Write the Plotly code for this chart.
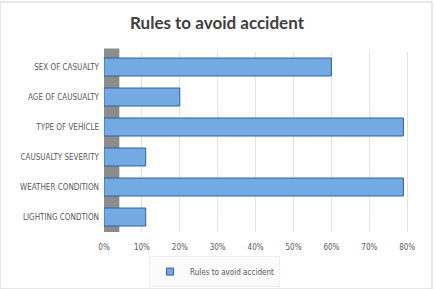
import plotly.graph_objects as go

categories = ["SEX OF CASUALTY", "AGE OF CAUSUALTY", "TYPE OF VEHICLE",
              "CAUSUALTY SEVERITY", "WEATHER CONDITION", "LIGHTING CONDTION"]
values = [60, 20, 79, 11, 79, 11]
tick_vals = [0, 10, 20, 30, 40, 50, 60, 70, 80]
tick_text = ["0%", "10%", "20%", "30%", "40%", "50%", "60%", "70%", "80%"]
series_name = "Rules to avoid accident"

fig = go.Figure()
fig.add_trace(go.Bar(
    y=categories, x=values, orientation="h", name=series_name,
    marker=dict(color="#74aae3", line=dict(color="#2f62a0", width=1)),
    width=0.6, showlegend=False,
))
fig.add_trace(go.Scatter(
    x=[None], y=[None], mode="markers", name=series_name,
    marker=dict(symbol="square", size=7, color="#74aae3",
                line=dict(color="#2f62a0", width=1)),
    showlegend=True,
))

fig.add_shape(type="rect", xref="x domain", yref="y domain",
              x0=0, x1=0.05, y0=0.0, y1=1.02,
              fillcolor="#8c8c8c", line=dict(width=0), layer="below")

fig.update_layout(
    width=434, height=289,
    margin=dict(l=104, r=23, t=52, b=57, autoexpand=False),
    paper_bgcolor="white", plot_bgcolor="white",
    title=dict(text="<b>Rules to avoid accident</b>", x=0.5, xanchor="center",
               y=0.92, yanchor="middle",
               font=dict(family="Lato, Open Sans, sans-serif", size=17, color="#404040")),
    xaxis=dict(range=[0, 81], tickvals=tick_vals, ticktext=tick_text,
               showgrid=True, gridcolor="#e3e3e3", gridwidth=1, zeroline=False,
               showline=False, ticks="", ticklabelstandoff=9, automargin=False,
               tickfont=dict(family="Liberation Sans Narrow, DejaVu Sans Condensed, sans-serif",
                             size=8, color="#595959")),
    yaxis=dict(autorange="reversed", showgrid=False, showline=False, ticks="",
               ticklabelstandoff=4, automargin=False,
               tickfont=dict(family="Liberation Sans Narrow, DejaVu Sans Condensed, sans-serif",
                             size=8, color="#595959")),
    legend=dict(orientation="h", x=0.36, xanchor="center", y=-0.22, yanchor="middle",
                font=dict(family="Liberation Sans Narrow, DejaVu Sans Condensed, sans-serif",
                          size=8, color="#595959"),
                bgcolor="#fbfbfb", bordercolor="#f0f0f0", borderwidth=1),
    bargap=0.4,
)
fig.add_shape(type="rect", xref="paper", yref="paper", x0=-104/307, x1=1+21/307,
              y0=-57/180, y1=1+50/180, line=dict(color="#d0d0d0", width=1))

fig.write_html("out.html")
